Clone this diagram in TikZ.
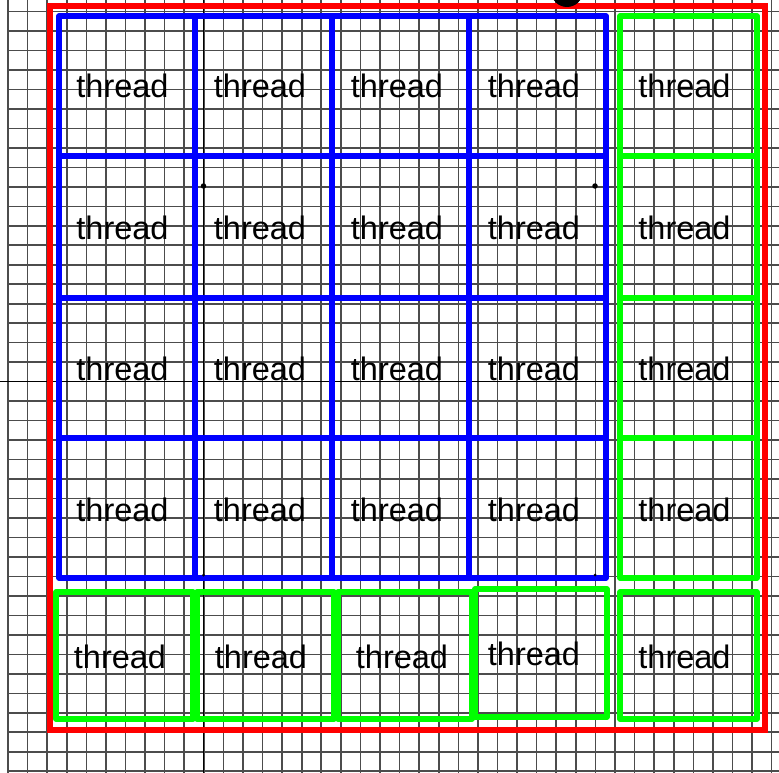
\documentclass[tikz,border=0pt]{standalone}
\usepackage{fontspec}
\setmainfont{Liberation Sans}
\definecolor{bblue}{RGB}{0,0,255}
\definecolor{ggreen}{RGB}{0,255,0}
\definecolor{rred}{RGB}{255,0,0}
\tikzset{
  gridline/.style={draw=black!70, line width=1.6pt},
  axisline/.style={draw=black, line width=1.2pt},
  bluecell/.style={draw=bblue, line width=5.6pt, line join=round},
  greencell/.style={draw=ggreen, line width=5.6pt, line join=round},
  redframe/.style={draw=rred, line width=5.8pt},
  lbl/.style={inner sep=0pt, font=\fontsize{32.5}{36}\selectfont, text=black},
  handle/.style={fill=black, circle, inner sep=0pt, minimum size=5.5pt},
}
\begin{document}
\begin{tikzpicture}[x=1pt,y=-1pt]
\useasboundingbox (0,0) rectangle (779,773);
\clip (0,0) rectangle (779,773);
\fill[white] (0,0) rectangle (779,773);
% background grid
\foreach \k in {0,...,39} {
  \draw[gridline] ({8+19.58*\k},0) -- ({8+19.58*\k},773);
  \draw[gridline] (8,{11.5+19.48*\k}) -- (779,{11.5+19.48*\k});
}
\draw[axisline] (203.8,0) -- (203.8,773);
\draw[axisline] (0,381.6) -- (779,381.6);
% red frame
\draw[redframe] (50,6) rectangle (765,730);
% blue 4x4 block
\foreach \xa/\xb in {59/195,195/332,332/469,469/606} {
  \foreach \ya/\yb in {16/156,156/298,298/438,438/578} {
    \draw[bluecell] (\xa,\ya) rectangle (\xb,\yb);
  }
}
% green right column
\foreach \ya/\yb in {16/156,156/298,298/438,438/578} {
  \draw[greencell] (620,\ya) rectangle (757,\yb);
}
% green bottom row
\draw[greencell] (56,592) rectangle (193,719);
\draw[greencell] (197,592) rectangle (334,719);
\draw[greencell] (338,592) rectangle (472,719);
\draw[greencell] (475,589) rectangle (607,717);
\draw[greencell] (620,592) rectangle (757,719);
% handles
\node[handle] (h1) at (203.5,186) {};
\node[handle] (h2) at (595,186) {};
\node[handle, minimum size=3pt] (h3) at (203.5,575) {};
\node[handle, minimum size=3pt] (h4) at (595,575) {};
\fill[black] (567,-9) circle (16);
% labels
\foreach \r/\y in {1/86,2/228,3/369,4/510} {
  \node[lbl] (t\r a) at (122.5,\y) {thread};
  \node[lbl] (t\r b) at (260,\y) {thread};
  \node[lbl] (t\r c) at (397,\y) {thread};
  \node[lbl] (t\r d) at (534,\y) {thread};
  \node[lbl] (t\r e) at (684.5,\y) {thread};
}
\node[lbl] (t5a) at (120,657) {thread};
\node[lbl] (t5b) at (261,657) {thread};
\node[lbl] (t5c) at (402,657) {thread};
\node[lbl] (t5d) at (534,654) {thread};
\node[lbl] (t5e) at (684.5,657) {thread};
\end{tikzpicture}
\end{document}
